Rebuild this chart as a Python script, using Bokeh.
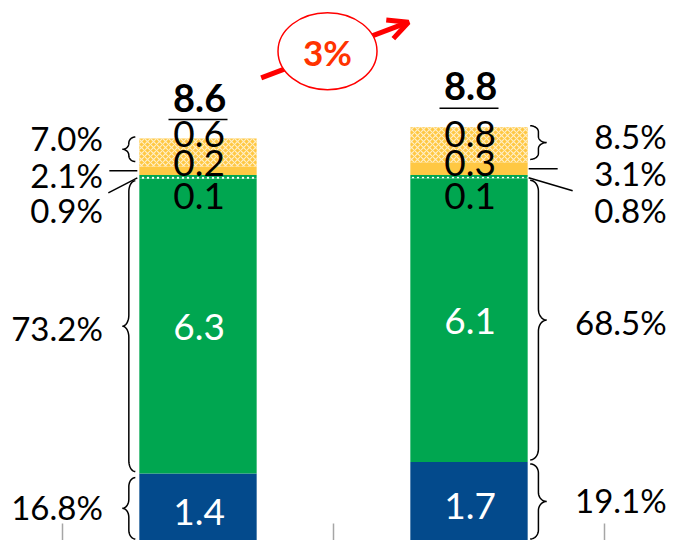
import numpy as np
from bokeh.plotting import figure
from bokeh.models import Range1d, Arrow, OpenHead
from bokeh.core.properties import value
from bokeh.embed import file_html
from bokeh.resources import INLINE

# ---------------- data ----------------
bars = ["Bar 1", "Bar 2"]
blue_vals = [1.44, 1.69]
green_vals = [6.30, 6.06]
dotted_vals = [0.08, 0.07]
yellow_vals = [0.18, 0.27]
hatched_vals = [0.60, 0.75]
blue_share = ["16.8%", "19.1%"]
green_share = ["73.2%", "68.5%"]
dotted_share = ["0.9%", "0.8%"]
yellow_share = ["2.1%", "3.1%"]
hatched_share = ["7.0%", "8.5%"]
growth_label = "3%"

# ---------------- geometry ----------------
W, H = 674, 540
PX_X, PX_Y = 271.0, 46.8
X0 = 1 - 197.5 / PX_X
X1 = X0 + W / PX_X
Y1 = 540.5 / PX_Y
Y0 = Y1 - H / PX_Y
BW = 0.433

def sx(x): return (x - X0) * PX_X
def sy(y): return (Y1 - y) * PX_Y
def dx(s): return X0 + s / PX_X
def dy(s): return Y1 - s / PX_Y

FONT = value("Lato")
BLUE, GREEN, YELLOW = "#034A8C", "#00A650", "#FFC843"

xs = [i + 1 for i in range(len(bars))]
b1 = np.array(blue_vals)
b2 = b1 + np.array(green_vals)
b3 = b2 + np.array(dotted_vals)
b4 = b3 + np.array(yellow_vals)
b5 = b4 + np.array(hatched_vals)
zero = np.zeros(len(xs))

p = figure(width=W, height=H, x_range=Range1d(X0, X1), y_range=Range1d(Y0, Y1),
           x_axis_type=None, y_axis_type=None, output_backend="svg",
           toolbar_location=None, min_border=0, outline_line_color=None)
p.grid.visible = False
p.background_fill_color = "white"

# category separator ticks and baseline
edges = [x - 0.5 for x in xs] + [xs[-1] + 0.5]
p.segment(x0=[edges[0]], x1=[edges[-1]], y0=[0], y1=[0], line_color="#D9D9D9", line_width=2)
p.segment(x0=edges, y0=[dy(523)] * len(edges), x1=edges, y1=[0] * len(edges),
          line_color="#A6A6A6", line_width=1.5)

# stacked bars
p.vbar(x=xs, bottom=zero, top=b1, width=BW, fill_color=BLUE, line_color=None)
p.vbar(x=xs, bottom=b1, top=b2, width=BW, fill_color=GREEN, line_color=None)
p.vbar(x=xs, bottom=b2, top=b3, width=BW, fill_color=GREEN, line_color=None,
       hatch_pattern="dot", hatch_color="white", hatch_scale=5, hatch_weight=1.5)
p.vbar(x=xs, bottom=b3, top=b4, width=BW, fill_color=YELLOW, line_color=None)
p.vbar(x=xs, bottom=b4, top=b5, width=BW, fill_color=YELLOW, line_color=None,
       hatch_pattern="diagonal_cross", hatch_color="white", hatch_scale=6,
       hatch_weight=1.1, hatch_alpha=0.7)

def text(x, y, t, size, color="black", align="center", bold=False):
    p.text(x=x, y=y, text=t, text_font=FONT, text_font_size=f"{size}px",
           text_color=color, text_align=align, text_baseline="alphabetic",
           text_font_style="bold" if bold else "normal", y_offset=0.03 * size)

# segment value labels
fmt = lambda arr: [f"{v:.1f}" for v in arr]
ctr = [x + 0.004 for x in xs]
text(ctr, list((b1 + b2) / 2), fmt(green_vals), 37, "white")
text(ctr, [dy(sy(v) + 3.5) for v in b1 / 2], fmt(blue_vals), 37, "white")
text(ctr, [dy(sy(v) + 20) for v in b3], fmt(dotted_vals), 37)
text(ctr, [dy(sy(v) - 13) for v in b3], fmt(yellow_vals), 37)
text(ctr, [dy(sy(v) - 42.5) for v in b3], fmt(hatched_vals), 37)

# totals with underline
totals = [f"{v:.1f}" for v in b5]
text([x + 0.006 for x in xs], [dy(sy(v) - 42) for v in b5], totals, 38, bold=True)
p.segment(x0=[x - 29.5 / PX_X for x in xs], x1=[x + 29.5 / PX_X for x in xs],
          y0=[dy(sy(v) - 19) for v in b5], y1=[dy(sy(v) - 19) for v in b5],
          line_color="black", line_width=1.5)

# braces
def brace(xe, xt, ytop, ybot, r):
    xm, ym = (xe + xt) / 2, (ytop + ybot) / 2
    r = min(r, (ybot - ytop) / 4)
    t = np.linspace(0, np.pi / 2, 12)
    px = np.concatenate([xe + (xm - xe) * np.sin(t), xt + (xm - xt) * np.cos(t),
                         xt + (xm - xt) * np.sin(t), xe + (xm - xe) * np.cos(t)])
    py = np.concatenate([ytop + r - r * np.cos(t), ym - r + r * np.sin(t),
                         ym + r - r * np.cos(t), ybot - r + r * np.sin(t)])
    return [dx(v) for v in px], [dy(v) for v in py], ym

le = sx(xs[0] - BW / 2)
re = sx(xs[1] + BW / 2)
side = [(le - 4, le - 17), (re + 2.5, re + 19)]
bx, by = [], []
tips = {"h": [], "g": [], "b": []}
for i, (xe, xt) in enumerate(side):
    spans = {"h": (sy(b5[i]) - 1.5, sy(b4[i]) - (5 if i == 0 else 3), 6),
             "g": (sy(b2[i]) + 2, sy(b1[i]) - 2, 11),
             "b": (sy(b1[i]) + (4 if i == 0 else 2), sy(0) - 2, 9)}
    for k, (t0, t1, r) in spans.items():
        X, Y, ym = brace(xe, xt, t0, t1, r)
        bx.append(X); by.append(Y); tips[k].append(ym)
p.multi_line(xs=bx, ys=by, line_color="black", line_width=1.5)

# leader lines for the two thin segments
c4 = [sy(v) for v in (b3 + b4) / 2]
c3 = [sy(v) for v in (b2 + b3) / 2]
lx = [[dx(le - 2), dx(le - 30)], [dx(re + 1), dx(re + 30)],
      [dx(le - 2), dx(le - 31)], [dx(re + 1), dx(re + 45)]]
ly = [[dy(c4[0]), dy(c4[0])], [dy(c4[1]), dy(c4[1])],
      [dy(c3[0] + 1), dy(c3[0] + 16)], [dy(c3[1] + 1), dy(c3[1] + 14)]]
p.multi_line(xs=lx, ys=ly, line_color="black", line_width=1.5)

# share labels
lab_x = [dx(le - 36.5), dx(re + 139)]
hoff = [-12, -7.5]
for i in range(2):
    ys = [dy(tips["h"][i] + hoff[i]), dy(c4[i] + 3.5), dy(c3[i] + 32),
          dy(tips["g"][i] + 1), dy(tips["b"][i] - 2)]
    labs = [hatched_share[i], yellow_share[i], dotted_share[i], green_share[i], blue_share[i]]
    text([lab_x[i]] * 5, ys, labs, 33, align="right")

# growth arrow with ellipse
p.add_layout(Arrow(end=OpenHead(size=20, line_width=5, line_color="#FF0000"),
                   x_start=dx(260.7), y_start=dy(77.3), x_end=dx(408), y_end=dy(21.7),
                   line_width=5, line_color="#FF0000", level="underlay"))
p.ellipse(x=[dx(327)], y=[dy(50.7)], width=99, height=77, width_units="screen",
          height_units="screen", fill_color="white", line_color="#FF0000", line_width=1.5)
text([dx(327)], [dy(50)], [growth_label], 35, color="#FF3300", bold=True)

open("out.html", "w").write(file_html(p, INLINE))
